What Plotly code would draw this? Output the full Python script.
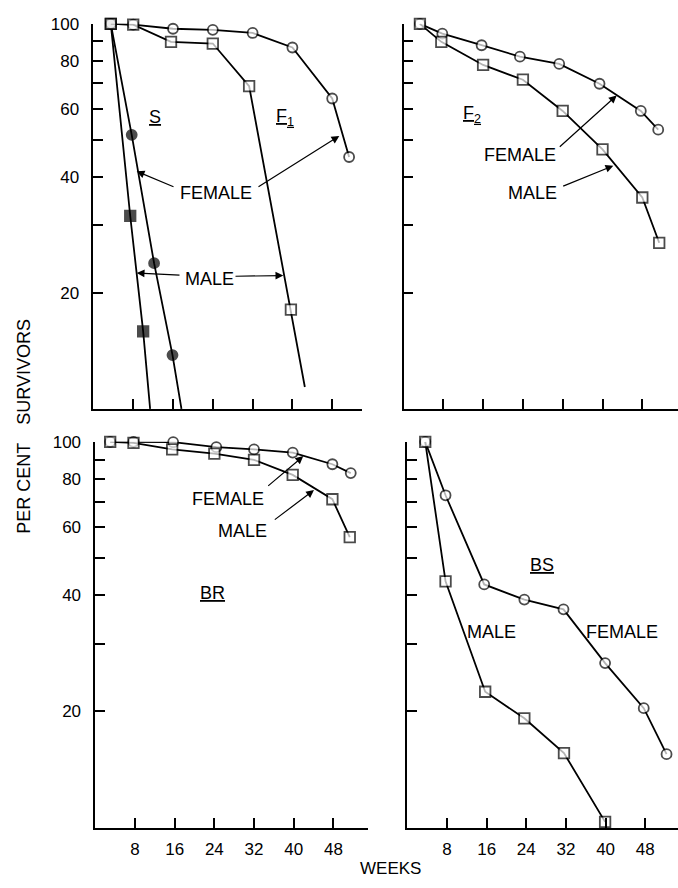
import plotly.graph_objects as go

W, H = 678, 888

# ---------------- data (weeks, per cent survivors) ----------------
s_female_weeks = [3.5, 7.7, 12.2, 15.9, 17.7]
s_female_vals = [100, 51.5, 23.9, 13.8, 10]
s_male_weeks = [3.5, 7.4, 10.0, 11.4]
s_male_vals = [100, 31.7, 15.9, 10]

f1_female_weeks = [3.5, 8, 16, 24, 32, 40, 48, 51.4]
f1_female_vals = [100, 99.5, 97.1, 96.5, 94.7, 86.8, 64.0, 45.1]
f1_male_weeks = [3.5, 8, 15.6, 24, 31.3, 39.7, 42.5]
f1_male_vals = [100, 99.5, 89.8, 88.9, 68.9, 18.1, 11.4]

f2_female_weeks = [3.3, 7.8, 15.7, 23.4, 31.3, 39.4, 47.7, 51.2]
f2_female_vals = [100, 94.3, 88.0, 82.2, 78.7, 69.9, 59.4, 53.1]
f2_male_weeks = [3.3, 7.6, 16, 24, 32, 40, 48, 51.4]
f2_male_vals = [100, 89.8, 78.2, 71.6, 59.4, 47.2, 35.4, 27.0]

br_female_weeks = [3.0, 7.7, 15.7, 24.4, 32, 39.8, 47.8, 51.5]
br_female_vals = [100, 100, 99.8, 96.9, 95.6, 93.8, 87.5, 83.0]
br_male_weeks = [3.0, 7.7, 15.5, 24, 32, 39.8, 47.8, 51.3]
br_male_vals = [100, 99.4, 95.6, 93.2, 89.8, 82.1, 71.0, 56.6]

bs_female_weeks = [3.6, 7.7, 15.5, 23.6, 31.5, 39.9, 47.7, 52.3]
bs_female_vals = [100, 72.7, 42.7, 39.0, 36.8, 26.7, 20.4, 15.5]
bs_male_weeks = [3.6, 7.7, 15.7, 23.6, 31.6, 39.9]
bs_male_vals = [100, 43.5, 22.5, 19.2, 15.6, 10.35]

week_ticks = [8, 16, 24, 32, 40, 48]
pct_ticks = [20, 40, 60, 80, 100]
pct_labels = ["20", "40", "60", "80", "100"]
pct_minor_ticks = [30, 50, 70, 90]

FONT = "Liberation Sans"
BLACK = "#000000"


def px(x):
    return x / W


def py(y):
    return 1 - y / H


fig = go.Figure()


def add_series(xs, ys, axis, symbol, filled, last_marker=True):
    n = len(xs)
    sizes = [10.5 if symbol.startswith("square") else 10] * n
    if not last_marker:
        sizes[-1] = 0
    fig.add_trace(go.Scatter(
        x=xs, y=ys, xaxis="x" + axis, yaxis="y" + axis,
        mode="lines+markers",
        line=dict(color=BLACK, width=1.8),
        marker=dict(symbol=symbol, size=sizes,
                    color=BLACK if filled else "white",
                    line=dict(color=BLACK, width=1.8)),
        cliponaxis=False, showlegend=False, hoverinfo="skip"))


# top-left: S and F1
add_series(s_female_weeks, s_female_vals, "", "circle", True, last_marker=False)
add_series(s_male_weeks, s_male_vals, "", "square", True, last_marker=False)
add_series(f1_female_weeks, f1_female_vals, "", "circle", False)
add_series(f1_male_weeks, f1_male_vals, "", "square", False, last_marker=False)
# top-right: F2
add_series(f2_female_weeks, f2_female_vals, "2", "circle", False)
add_series(f2_male_weeks, f2_male_vals, "2", "square", False)
# bottom-left: BR
add_series(br_female_weeks, br_female_vals, "3", "circle", False)
add_series(br_male_weeks, br_male_vals, "3", "square", False)
# bottom-right: BS
add_series(bs_female_weeks, bs_female_vals, "4", "circle", False)
add_series(bs_male_weeks, bs_male_vals, "4", "square", False)


def xaxis(domain, rng, anchor, labels):
    return dict(domain=domain, range=rng, anchor=anchor,
                showgrid=False, zeroline=False, showline=True,
                linecolor=BLACK, linewidth=1.7,
                ticks="inside", ticklen=10, tickwidth=1.5, tickcolor=BLACK,
                tickvals=week_ticks, showticklabels=labels,
                ticklabelstandoff=5,
                tickfont=dict(family=FONT, size=17, color=BLACK))


def yaxis(domain, anchor, labels):
    return dict(domain=domain, type="log", range=[1, 2], anchor=anchor,
                showgrid=False, zeroline=False, showline=True,
                linecolor=BLACK, linewidth=1.7,
                ticks="inside", ticklen=10, tickwidth=1.5, tickcolor=BLACK,
                tickvals=pct_ticks, ticktext=pct_labels,
                minor=dict(tickvals=pct_minor_ticks, ticks="inside", ticklen=10,
                           tickwidth=1.5, tickcolor=BLACK, showgrid=False),
                showticklabels=labels, ticklabelstandoff=9,
                tickfont=dict(family=FONT, size=17, color=BLACK))


top_dom = [py(404), py(15)]
bot_dom = [py(827), py(437.3)]

fig.update_layout(
    width=W, height=H,
    margin=dict(l=0, r=0, t=0, b=0),
    paper_bgcolor="white", plot_bgcolor="white",
    xaxis=xaxis([px(93.4), px(93.4 + 54 * 4.975)], [0, 54], "y", False),
    yaxis=yaxis(top_dom, "x", True),
    xaxis2=xaxis([px(403.5), 1.0], [0, (W - 403.5) / 4.975], "y2", False),
    yaxis2=yaxis(top_dom, "x2", False),
    xaxis3=xaxis([px(95.3), px(95.3 + 55 * 4.96)], [0, 55], "y3", True),
    yaxis3=yaxis(bot_dom, "x3", True),
    xaxis4=xaxis([px(407.4), 1.0], [0, (W - 407.4) / 4.955], "y4", True),
    yaxis4=yaxis(bot_dom, "x4", False),
)

annotations = []


def label(text, x, y, size=18, angle=0):
    annotations.append(dict(text=text, x=px(x), y=py(y), xref="paper", yref="paper",
                            showarrow=False, textangle=angle,
                            xanchor="center", yanchor="middle",
                            font=dict(family=FONT, size=size, color=BLACK)))


def arrow(tail, head):
    annotations.append(dict(text="", x=px(head[0]), y=py(head[1]),
                            xref="paper", yref="paper", showarrow=True,
                            ax=tail[0] - head[0], ay=tail[1] - head[1],
                            axref="pixel", ayref="pixel",
                            arrowhead=2, arrowsize=1.3, arrowwidth=1.2,
                            arrowcolor=BLACK, standoff=0, startstandoff=0))


# top-left
label("<u>S</u>", 155, 109)
label("<u>F<sub>1</sub></u>", 285, 110)
label("FEMALE", 216, 185.5)
arrow((175, 180), (136.7, 164))
arrow((257, 180), (339.3, 128.3))
label("MALE", 209, 272.5)
arrow((181, 269), (136.7, 266.7))
arrow((234, 270), (283.3, 269.3))

# top-right
label("<u>F<sub>2</sub></u>", 472, 107)
label("FEMALE", 519.5, 148)
arrow((558.3, 140), (616.7, 87.3))
label("MALE", 532.5, 185.5)
arrow((561.7, 179.3), (613.3, 158.3))

# bottom-left
label("<u>BR</u>", 212.5, 590)
label("FEMALE", 228, 495.5)
arrow((266.7, 482.7), (303.3, 451.7))
label("MALE", 242.5, 527.5)
arrow((273.3, 516.7), (314, 486))

# bottom-right
label("<u>BS</u>", 542, 561.5)
label("MALE", 491, 629)
label("FEMALE", 622, 629)

# axis titles
label("WEEKS", 390, 868, size=17)
label("PER CENT\u2002\u2002SURVIVORS", 24, 422, size=18, angle=-90)

fig.update_layout(annotations=annotations)

fig.write_html("out.html")
